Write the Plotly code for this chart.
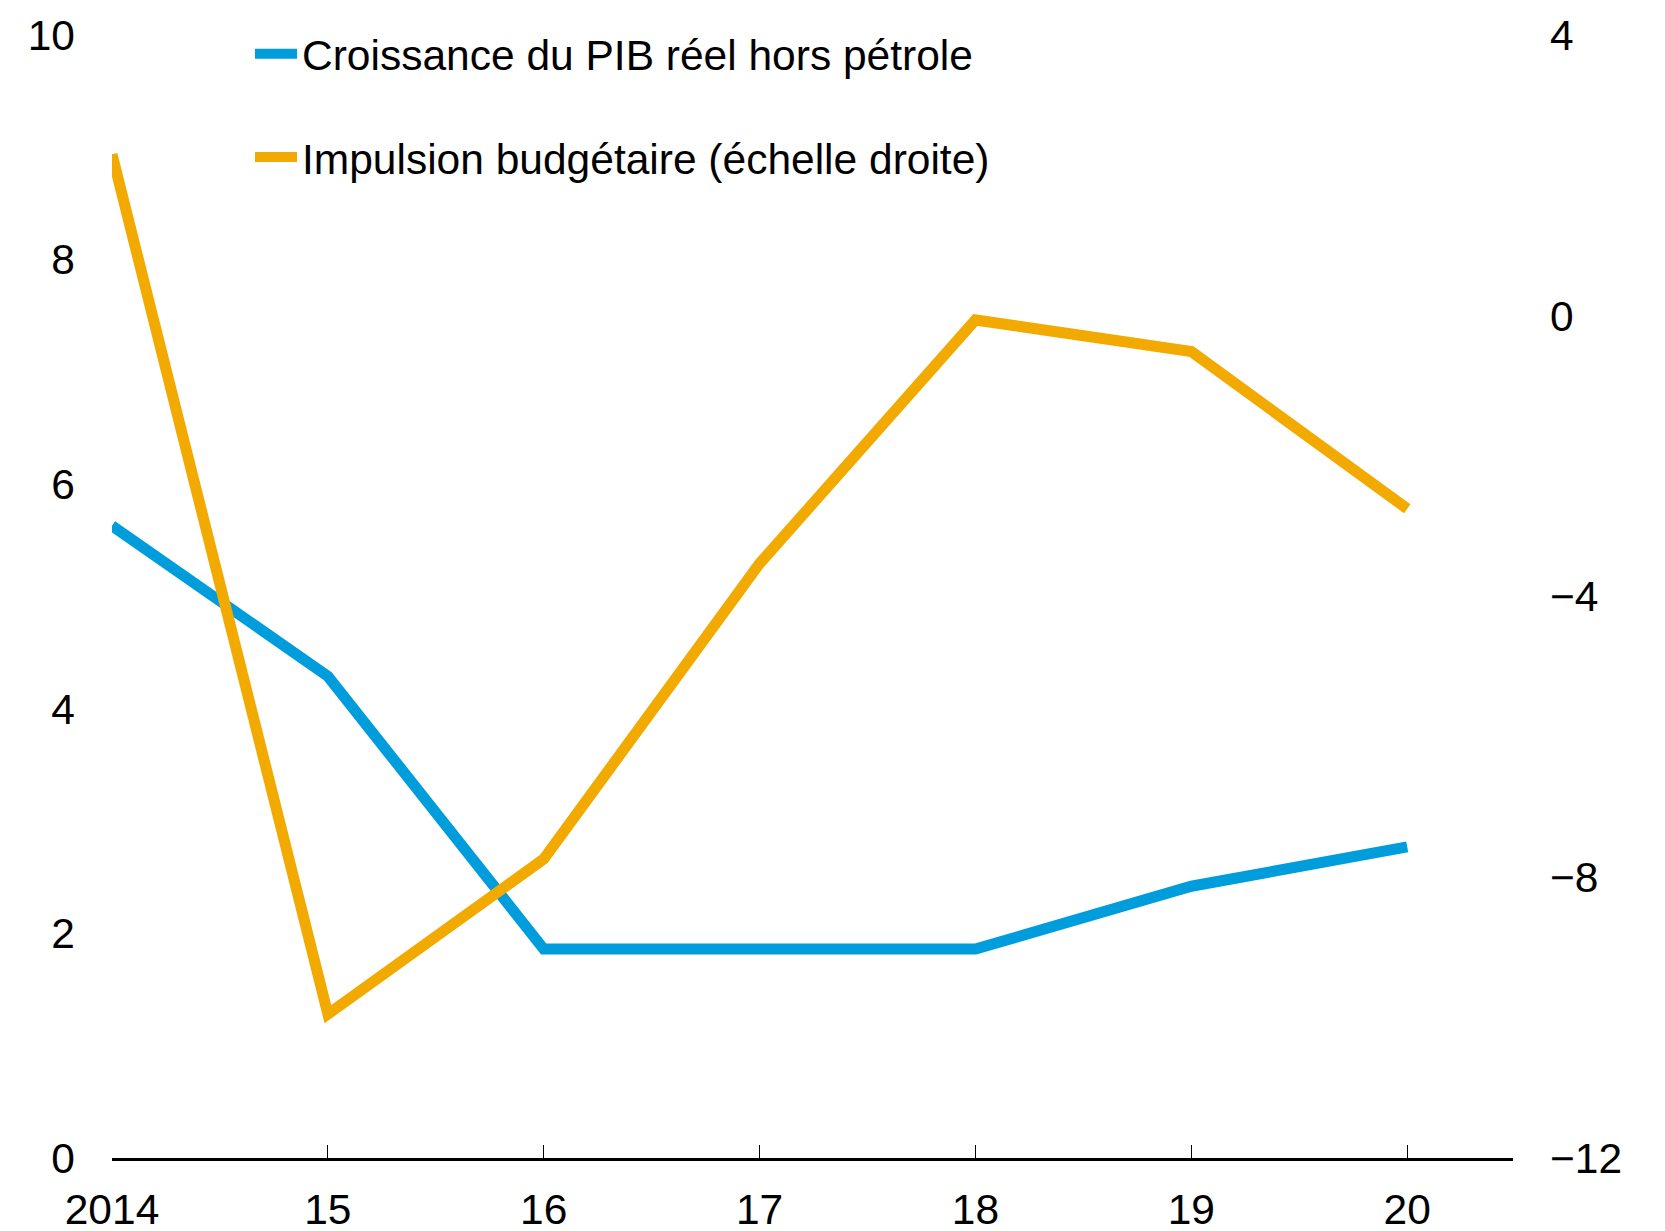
import plotly.graph_objects as go

years = [2014, 2015, 2016, 2017, 2018, 2019, 2020]
year_labels = ['2014', '15', '16', '17', '18', '19', '20']
pib_hors_petrole = [5.63, 4.29, 1.86, 1.87, 1.86, 2.42, 2.77]
impulsion_budgetaire = [2.3, -9.95, -7.74, -3.53, -0.06, -0.51, -2.75]

left_ticks = [0, 2, 4, 6, 8, 10]
right_ticks = [-12, -8, -4, 0, 4]
right_labels = ['\u221212', '\u22128', '\u22124', '0', '4']

blue = '#009ddc'
orange = '#f2aa00'
font = dict(family='Liberation Sans, Arial, sans-serif', size=42.5, color='black')

fig = go.Figure()
fig.add_trace(go.Scatter(x=years, y=pib_hors_petrole, mode='lines',
                         name='Croissance du PIB réel hors pétrole',
                         line=dict(color=blue, width=11), legend='legend'))
fig.add_trace(go.Scatter(x=years, y=impulsion_budgetaire, mode='lines',
                         name='Impulsion budgétaire (échelle droite)',
                         line=dict(color=orange, width=11), yaxis='y2', legend='legend2'))

# page body has an 8px margin, so the figure is shifted by that amount;
# extra bottom room keeps the x tick labels from being clipped by the svg
fig.update_layout(
    width=1657, height=1243,
    margin=dict(l=104, r=152, t=20, b=93),
    plot_bgcolor='white', paper_bgcolor='white',
    font=font,
    showlegend=True,
    xaxis=dict(range=[2014, 2020.49], tickvals=years, ticktext=year_labels,
               showgrid=False, zeroline=False, showline=True, linecolor='black', linewidth=2.5,
               ticks='inside', ticklen=13, tickwidth=1, tickcolor='black',
               ticklabelstandoff=12, automargin=False),
    yaxis=dict(range=[0, 10], tickvals=left_ticks, showgrid=False, zeroline=False,
               showline=False, ticks='', ticklabelstandoff=36, automargin=False),
    yaxis2=dict(range=[-12, 4], tickvals=right_ticks, ticktext=right_labels,
                overlaying='y', side='right', showgrid=False, zeroline=False,
                showline=False, ticks='', ticklabelstandoff=36, automargin=False),
    legend=dict(x=0.0985, y=0.983, xanchor='left', yanchor='middle',
                bgcolor='rgba(0,0,0,0)', font=font, itemwidth=42),
    legend2=dict(x=0.0985, y=0.891, xanchor='left', yanchor='middle',
                 bgcolor='rgba(0,0,0,0)', font=font, itemwidth=42),
)

fig.write_html('out.html')
